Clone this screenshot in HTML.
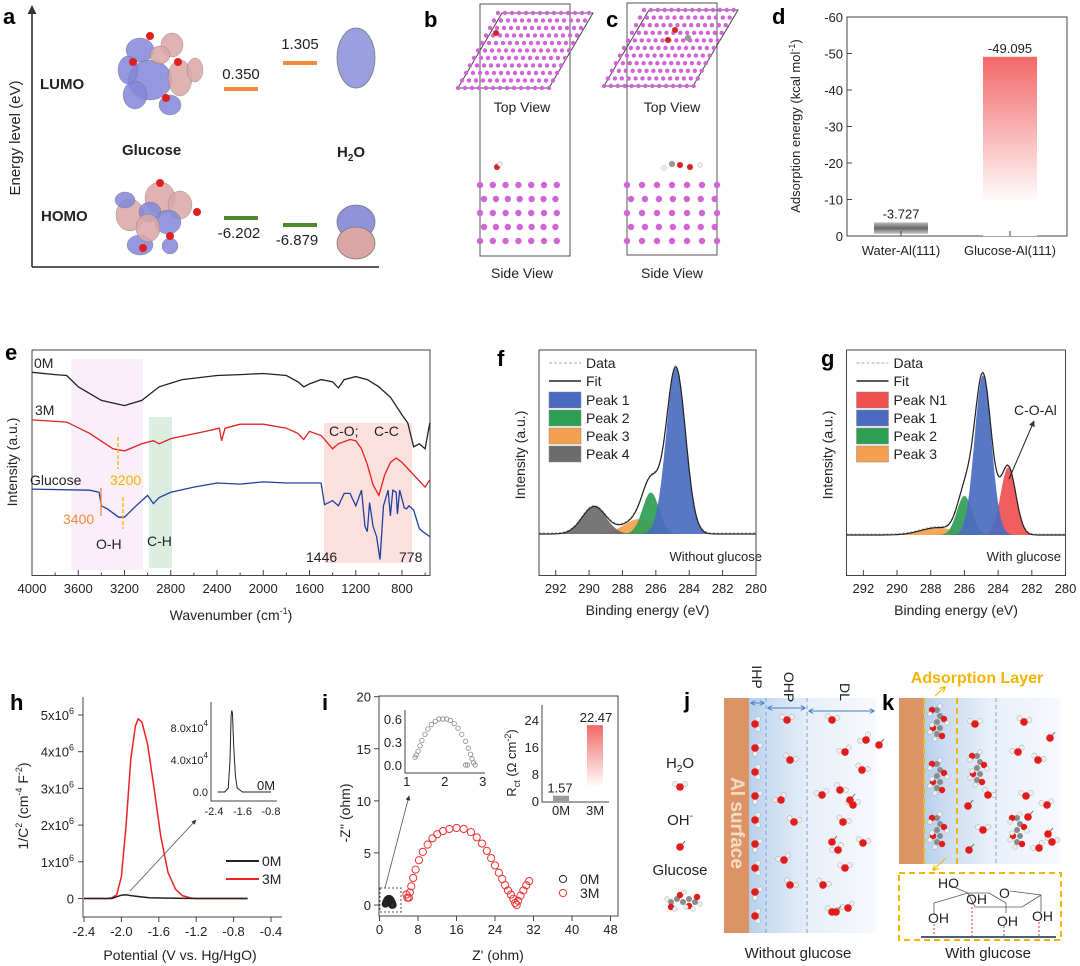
<!DOCTYPE html>
<html><head><meta charset="utf-8"><title>Glucose adsorption figure</title>
<style>
html,body{margin:0;padding:0;background:#fff;}
svg{display:block;font-family:"Liberation Sans",Arial,sans-serif;}
text{fill:#222;}
.t13{font-size:13px}.t14{font-size:14px}.t15{font-size:15px}
.lbl{font-size:22px;font-weight:bold;fill:#000}
</style></head>
<body>
<svg id="fig" width="1080" height="966" viewBox="0 0 1080 966" xmlns="http://www.w3.org/2000/svg">
<defs>
<linearGradient id="gRed" x1="0" y1="0" x2="0" y2="1"><stop offset="0" stop-color="#f26868"/><stop offset="0.82" stop-color="#fff" stop-opacity="1"/><stop offset="1" stop-color="#fff"/></linearGradient>
<linearGradient id="gGray" x1="0" y1="0" x2="0" y2="1"><stop offset="0" stop-color="#bbb"/><stop offset="0.5" stop-color="#666"/><stop offset="1" stop-color="#ccc"/></linearGradient>
<linearGradient id="gBlueJ" x1="0" y1="0" x2="1" y2="0"><stop offset="0" stop-color="#b5cfec"/><stop offset="0.15" stop-color="#cadcf1"/><stop offset="0.5" stop-color="#e9f0f9"/><stop offset="1" stop-color="#f7f9fd"/></linearGradient>
<marker id="arr" viewBox="0 0 10 10" refX="9" refY="5" markerWidth="6" markerHeight="6" orient="auto-start-reverse"><path d="M0,0 L10,5 L0,10 z" fill="#333"/></marker>
<marker id="arrB" viewBox="0 0 10 10" refX="9" refY="5" markerWidth="5" markerHeight="5" orient="auto-start-reverse"><path d="M0,0 L10,5 L0,10" fill="none" stroke="#4a7cc8" stroke-width="2"/></marker>
<marker id="arrY" viewBox="0 0 10 10" refX="9" refY="5" markerWidth="6" markerHeight="6" orient="auto"><path d="M0,0 L10,5 L0,10" fill="none" stroke="#f5b400" stroke-width="2"/></marker>
</defs>

<!-- Panel a -->
<g>
<text class="lbl" x="3" y="24">a</text>
<line x1="32" y1="267" x2="32" y2="6" stroke="#222" stroke-width="1.5" marker-end="url(#arr)"/>
<line x1="32" y1="267" x2="379" y2="267" stroke="#222" stroke-width="1.5"/>
<text class="t15" transform="translate(20,138) rotate(-90)" text-anchor="middle">Energy level (eV)</text>
<text x="40" y="89" style="font-size:15px;font-weight:bold">LUMO</text>
<text x="41" y="221" style="font-size:15px;font-weight:bold">HOMO</text>
<text x="122" y="155" style="font-size:15px;font-weight:bold">Glucose</text>
<text x="337" y="157" style="font-size:15px;font-weight:bold">H<tspan dy="4" style="font-size:10px">2</tspan><tspan dy="-4">O</tspan></text>
<g id="orbitals"></g>
<line x1="224" y1="89" x2="258" y2="89" stroke="#f08a3c" stroke-width="4"/>
<line x1="283" y1="63" x2="317" y2="63" stroke="#f08a3c" stroke-width="4"/>
<line x1="224" y1="218" x2="258" y2="218" stroke="#4f8a2e" stroke-width="4"/>
<line x1="283" y1="225" x2="317" y2="225" stroke="#4f8a2e" stroke-width="4"/>
<text class="t15" x="241" y="79" text-anchor="middle">0.350</text>
<text class="t15" x="300" y="49" text-anchor="middle">1.305</text>
<text class="t15" x="239" y="238" text-anchor="middle">-6.202</text>
<text class="t15" x="297" y="245" text-anchor="middle">-6.879</text>
</g>

<!-- Panels b, c -->
<g>
<text class="lbl" x="424" y="27">b</text>
<rect x="480" y="4" width="90" height="252" fill="none" stroke="#555" stroke-width="1"/>
<polygon points="502,13 593,13 549,88 458,88" fill="none" stroke="#444"/>
<g id="bAtoms"></g>
<text class="t14" x="522" y="112" text-anchor="middle">Top View</text>
<text class="t14" x="522" y="278" text-anchor="middle">Side View</text>
</g>
<g>
<text class="lbl" x="606" y="27">c</text>
<rect x="627" y="3" width="90" height="252" fill="none" stroke="#555" stroke-width="1"/>
<polygon points="649,10 738,10 693,86 604,86" fill="none" stroke="#444"/>
<g id="cAtoms"></g>
<text class="t14" x="672" y="112" text-anchor="middle">Top View</text>
<text class="t14" x="672" y="278" text-anchor="middle">Side View</text>
</g>

<!-- Panel d -->
<g id="pd">
<text class="lbl" x="772" y="24">d</text>
<rect x="847" y="17" width="220" height="219" fill="none" stroke="#444"/>
<text class="t13" transform="translate(800,126) rotate(-90)" text-anchor="middle">Adsorption energy (kcal mol<tspan dy="-5" style="font-size:9px">-1</tspan><tspan dy="5">)</tspan></text>
</g>

<!-- Panel e -->
<g id="pe">
<text class="lbl" x="5" y="360">e</text>
</g>
<!-- Panel f / g -->
<g id="pf">
<text class="lbl" x="497" y="366">f</text>
</g>
<g id="pg">
<text class="lbl" x="821" y="366">g</text>
</g>
<!-- Panel h / i -->
<g id="ph">
<text class="lbl" x="10" y="710">h</text>
</g>
<g id="pi">
<text class="lbl" x="322" y="710">i</text>
</g>

<!-- Panel j -->
<g id="pj">
<text class="lbl" x="684" y="708">j</text>
<rect x="749" y="698" width="127" height="235" fill="url(#gBlueJ)"/>
<rect x="724" y="698" width="25" height="235" fill="#dc9466"/>
<text transform="translate(731,823) rotate(90)" text-anchor="middle" style="font-size:19px;font-weight:bold;fill:#f6dcc6">Al surface</text>
<line x1="766" y1="698" x2="766" y2="933" stroke="#7fa3d8" stroke-dasharray="4,3"/>
<line x1="807" y1="698" x2="807" y2="933" stroke="#7fa3d8" stroke-dasharray="4,3"/>
<line x1="751" y1="703" x2="764" y2="703" stroke="#4a7cc8" marker-start="url(#arrB)" marker-end="url(#arrB)"/>
<line x1="768" y1="708" x2="805" y2="708" stroke="#4a7cc8" marker-start="url(#arrB)" marker-end="url(#arrB)"/>
<line x1="809" y1="711" x2="874" y2="711" stroke="#4a7cc8" marker-start="url(#arrB)" marker-end="url(#arrB)"/>
<text class="t14" transform="translate(752,677) rotate(90)" text-anchor="middle">IHP</text>
<text class="t14" transform="translate(784,687) rotate(90)" text-anchor="middle">OHP</text>
<text class="t14" transform="translate(840,692) rotate(90)" text-anchor="middle">DL</text>
<text class="t15" x="798" y="958" text-anchor="middle">Without glucose</text>
<text class="t15" x="680" y="768" text-anchor="middle">H<tspan dy="4" style="font-size:10px">2</tspan><tspan dy="-4">O</tspan></text>
<text class="t15" x="680" y="825" text-anchor="middle">OH<tspan dy="-6" style="font-size:10px">-</tspan></text>
<text class="t15" x="680" y="875" text-anchor="middle">Glucose</text>
<g id="jMol"></g>
</g>

<!-- Panel k -->
<g id="pk">
<text class="lbl" x="882" y="710">k</text>
<rect x="924" y="698" width="136" height="166" fill="url(#gBlueJ)"/>
<rect x="899" y="698" width="25" height="166" fill="#dc9466"/>
<line x1="924" y1="698" x2="924" y2="864" stroke="#f5b400" stroke-width="2" stroke-dasharray="6,4"/>
<line x1="957" y1="698" x2="957" y2="864" stroke="#f5b400" stroke-width="2" stroke-dasharray="6,4"/>
<line x1="996" y1="698" x2="996" y2="864" stroke="#7fa3d8" stroke-dasharray="4,3"/>
<text x="977" y="683" text-anchor="middle" style="font-size:16px;font-weight:bold;fill:#f5b400">Adsorption Layer</text>
<line x1="935" y1="696" x2="945" y2="687" stroke="#f5b400" marker-end="url(#arrY)"/>
<line x1="946" y1="858" x2="933" y2="870" stroke="#f5b400" marker-end="url(#arrY)"/>
<rect x="899" y="873" width="162" height="67" fill="none" stroke="#f5b400" stroke-width="2" stroke-dasharray="6,4"/>
<g stroke="#555" fill="none" stroke-width="0.8">
<polyline points="934,914 934,903 968,893 989,893 1006,903 1006,913"/>
<polyline points="968,893 975,907 1022,907 1041,895 1041,912"/>
<line x1="1010" y1="891" x2="1041" y2="895"/>
<line x1="949" y1="885" x2="968" y2="893"/>
</g>
<g stroke="#e53935" stroke-dasharray="2,2" stroke-width="1">
<line x1="934" y1="924" x2="934" y2="937"/><line x1="972" y1="903" x2="972" y2="937"/><line x1="1004" y1="926" x2="1004" y2="937"/><line x1="1039" y1="922" x2="1039" y2="937"/>
</g>
<line x1="921" y1="937" x2="1056" y2="937" stroke="#4a6080" stroke-width="2"/>
<g class="t14">
<text x="938" y="888" style="font-size:14px">HO</text>
<text x="966" y="904" style="font-size:14px">OH</text>
<text x="999" y="898" style="font-size:14px">O</text>
<text x="928" y="923" style="font-size:14px">OH</text>
<text x="997" y="926" style="font-size:14px">OH</text>
<text x="1032" y="921" style="font-size:14px">OH</text>
</g>
<text class="t15" x="988" y="958" text-anchor="middle">With glucose</text>
<g id="kMol"></g>
</g>
</svg>

<script>
// ---------- DATA ----------
// Panel d: adsorption energies (kcal/mol)
const adsCategories = ['Water-Al(111)', 'Glucose-Al(111)'];
const adsValues = [-3.727, -49.095];
const adsTicks = [0, -10, -20, -30, -40, -50, -60];

// Panel e: FTIR (wavenumber, arbitrary intensity)
const ftirWn0M = [4000,3800,3700,3600,3400,3200,3050,2900,2700,2400,2200,2000,1800,1700,1650,1600,1500,1400,1350,1300,1200,1100,1000,900,800,750,700,650,600,560];
const ftir0M = [90,89,88.6,83.6,77.6,75.3,77.6,83.6,86.8,88.6,89,89.5,88.6,85.8,83.6,84.9,86.8,85.8,83.1,86.8,88.1,86.8,83.6,79,71.2,67.6,57.1,58.4,56.2,67.6];
const ftirWn3M = [4000,3700,3500,3300,3200,3050,2950,2900,2800,2500,2380,2360,2330,2200,2000,1800,1700,1650,1600,1500,1400,1350,1250,1200,1150,1100,1050,1000,950,900,850,800,700,600,560];
const ftir3M = [69,68,63,56.2,55.3,58.4,59.8,58.4,60.7,63.9,65.3,59.8,65.3,67.1,67.1,65.3,63,60.3,63.9,62.1,56.2,58.4,60.3,59.8,56.2,49.3,40.2,35.6,44.7,50.2,52.1,50.2,44.7,39.3,42.5];
const ftirWnGlu = [4000,3500,3420,3400,3350,3250,3200,3100,3000,2950,2900,2800,2600,2400,2200,2000,1800,1500,1470,1400,1350,1300,1250,1200,1150,1120,1100,1080,1050,1020,1000,990,960,920,900,880,850,840,820,780,760,740,700,650,620,560];
const ftirGlu = [38.4,37.9,37,31,29.7,26,26,31,35.6,32,34.7,37,39.3,41.1,40.6,41.6,41.1,41.1,31.5,33.3,31,36.5,36.5,31,37.9,21.9,19.6,32.4,21.9,17.4,10.5,7.3,31,37.9,26.5,37.9,37,27.4,37.9,30.1,29.7,31,29.2,21,19.6,17.4];
const ftirTicks = [4000,3600,3200,2800,2400,2000,1600,1200,800];

// Panel f: XPS C1s without glucose (center eV, height, sigma)
const fNames = ['Peak 1','Peak 2','Peak 3','Peak 4'];
const fCenters = [284.8, 286.3, 287.0, 289.7];
const fHeights = [100, 25, 9, 16.5];
const fSigmas = [0.58, 0.5, 0.9, 0.72];
const fColors = ['#4a6bbf','#2e9e55','#f4a050','#6b6b6b'];
// Panel g: with glucose
const gNames = ['Peak N1','Peak 1','Peak 2','Peak 3'];
const gCenters = [283.4, 284.9, 286.0, 287.6];
const gHeights = [41.5, 98, 24, 4.5];
const gSigmas = [0.45, 0.5, 0.45, 1.0];
const gColors = ['#f05050','#4a6bbf','#2e9e55','#f4a050'];
const xpsTicks = [292,290,288,286,284,282,280];

// Panel h: Mott-Schottky (V, 1e6 cm^4 F^-2)
const msPot3M = [-2.4,-2.15,-2.1,-2.05,-2.0,-1.95,-1.9,-1.85,-1.82,-1.78,-1.72,-1.65,-1.58,-1.5,-1.42,-1.35,-1.25,-1.2,-0.65];
const ms3M = [0,0,0.02,0.1,0.6,2.0,3.8,4.7,4.9,4.8,4.2,3.0,1.7,0.7,0.25,0.08,0.01,0,0];
const msPot0M = [-2.4,-2.1,-2.05,-2.0,-1.95,-1.9,-1.8,-1.7,-1.5,-1.2,-0.65];
const ms0M = [0,0,0.05,0.09,0.1,0.08,0.05,0.02,0.01,0,0];
// inset (1e4 units)
const msInsetPot = [-2.3,-2.1,-2.0,-1.95,-1.92,-1.9,-1.88,-1.85,-1.8,-1.75,-1.6,-0.8];
const msInset0M = [0,0,0.5,4,9.5,10.2,9.8,6,2,0.5,0,0];
const msXTicks = [-2.4,-2.0,-1.6,-1.2,-0.8,-0.4];
const msYTicks = [0,1,2,3,4,5];

// Panel i: Nyquist
const nyZr3M = [5.6,5.8,6.1,6.3,6.6,7,7.5,8.2,9,10,11,12,13.2,14.5,16,17.5,19,20.2,21.3,22.3,23.2,24,24.8,25.5,26.1,26.7,27.3,27.8,28.2,28.5,28.8,29.3,29.9,30.5,31.1];
const nyZi3M = [1.0,0.7,0.7,1.2,1.8,2.6,3.4,4.3,5.1,5.8,6.4,6.8,7.1,7.3,7.4,7.3,7.0,6.5,5.9,5.2,4.5,3.8,3.1,2.5,1.9,1.4,1.0,0.6,0.2,0,0.4,0.9,1.4,1.9,2.3];
const nyZr0M = [1.22,1.25,1.3,1.35,1.4,1.48,1.56,1.65,1.75,1.85,1.95,2.05,2.15,2.25,2.35,2.45,2.55,2.62,2.68,2.72,2.76,2.8,2.6,2.55];
const nyZi0M = [0.1,0.13,0.18,0.25,0.32,0.4,0.47,0.53,0.57,0.6,0.6,0.6,0.58,0.54,0.48,0.4,0.31,0.22,0.14,0.08,0.03,0,0,0];
const nyXTicks = [0,8,16,24,32,40,48];
const nyYTicks = [0,5,10,15,20];
const rctCategories = ['0M','3M'];
const rctValues = [1.57, 22.47];

// ---------- HELPERS ----------
const NS = 'http://www.w3.org/2000/svg';
const svg = document.getElementById('fig');
function mk(tag, attrs, parent, txt) {
  const e = document.createElementNS(NS, tag);
  for (const k in attrs) e.setAttribute(k, attrs[k]);
  if (txt !== undefined) e.textContent = txt;
  (parent || svg).appendChild(e);
  return e;
}
function lin(d0, d1, r0, r1) { return v => r0 + (v - d0) * (r1 - r0) / (d1 - d0); }
function pathOf(xs, ys, fx, fy) { return xs.map((x, i) => (i ? 'L' : 'M') + fx(x).toFixed(1) + ',' + fy(ys[i]).toFixed(1)).join(''); }
function frame(g, x, y, w, h, name) {
  const r = mk('rect', {x: x, y: y, width: w, height: h, fill: 'none', stroke: '#444', 'stroke-width': 1}, g);
  
  
  return r;
}
function supLabel(g, x, y, base, exp, anchor, size) {
  const t = mk('text', {x: x, y: y, 'text-anchor': anchor || 'end', style: 'font-size:' + (size || 13) + 'px'}, g);
  t.appendChild(document.createTextNode(base));
  if (exp) { const s = mk('tspan', {dy: -6, style: 'font-size:' + Math.round((size || 13) * 0.7) + 'px'}, t, exp); }
  return t;
}

// ---------- Panel a orbitals ----------
(function () {
  const g = document.getElementById('orbitals');
  const P = '#8286d8', K = '#dba6a6';
  const blobsL = [[140,50,14,12,P],[172,45,11,12,K],[150,80,22,20,P],[180,78,12,18,K],[160,55,10,9,K],[135,95,12,14,P],[170,105,11,10,P],[195,70,8,12,K],[128,70,10,14,P]];
  const blobsH = [[130,215,14,16,K],[160,198,15,16,K],[150,212,11,10,P],[180,205,12,14,K],[168,222,13,12,P],[140,245,13,10,P],[170,246,8,8,P],[148,228,12,14,K],[125,200,10,8,P]];
  blobsL.concat(blobsH).forEach(b => {
    const e = mk('ellipse', {cx: b[0], cy: b[1], rx: b[2], ry: b[3], fill: b[4], 'fill-opacity': 0.85, stroke: '#666', 'stroke-width': 0.3}, g);
    
    
  });
  [[150,36],[178,62],[133,62],[166,98],[160,183],[197,212],[143,248],[170,236]].forEach(p => {
    const e = mk('circle', {cx: p[0], cy: p[1], r: 4, fill: '#e02020'}, g);
    
    
  });
  const w1 = mk('ellipse', {cx: 356, cy: 58, rx: 19, ry: 30, fill: '#9a9fe0', stroke: '#777', 'stroke-width': 0.8}, g);
  
  
  const w2 = mk('ellipse', {cx: 356, cy: 222, rx: 19, ry: 17, fill: '#8f93d8', stroke: '#777', 'stroke-width': 0.8}, g);
  
  
  const w3 = mk('ellipse', {cx: 356, cy: 243, rx: 19, ry: 16, fill: '#dba6a6', stroke: '#777', 'stroke-width': 0.8}, g);
  
  
})();

// ---------- Panels b, c atoms ----------
(function () {
  function slab(g, x0, y0, dx, rows, cols, skew, dy, r) {
    for (let i = 0; i < rows; i++) for (let j = 0; j < cols; j++) {
      const c = mk('circle', {cx: x0 + j * dx + (rows - 1 - i) * skew, cy: y0 + i * dy, r: r, fill: '#d066d6'}, g);
      
      
    }
  }
  const gb = document.getElementById('bAtoms'), gc = document.getElementById('cAtoms');
  slab(gb, 458, 13, 7.0, 11, 14, 4.0, 7.5, 2.2);
  slab(gc, 604, 10, 6.9, 11, 14, 4.0, 7.6, 2.2);
  [[gb,480,12.8],[gc,627,15]].forEach(s => {
    for (let i = 0; i < 5; i++) for (let j = 0; j < 7; j++) {
      const c = mk('circle', {cx: s[1] + (i % 2 ? 4 : 0) + j * s[2] * (i % 2 ? 0.93 : 1), cy: 185 + i * 14, r: 3.2, fill: '#d066d6'}, s[0]);
      
      
    }
  });
  [[gb,497,167,'#e02020',3],[gb,500,164,'#eee',2.5],[gb,496,33,'#e02020',3],[gc,680,165,'#e02020',3],[gc,672,164,'#999',3],[gc,690,167,'#e02020',3],[gc,664,168,'#eee',2.5],[gc,700,165,'#eee',2.5],[gc,675,30,'#e02020',3],[gc,688,38,'#999',3],[gc,668,40,'#e02020',3]].forEach(a => {
    const c = mk('circle', {cx: a[1], cy: a[2], r: a[4], fill: a[3], stroke: '#888', 'stroke-width': 0.3}, a[0]);
    
    
  });
})();

// ---------- Panel d ----------
(function () {
  const g = document.getElementById('pd');
  const yD = lin(0, -60, 236, 17);
  const xC = [901, 1010];
  adsTicks.forEach(t => {
    const l = mk('line', {x1: 847, x2: 852, y1: yD(t), y2: yD(t), stroke: '#444'}, g);
    
    
    const tx = mk('text', {x: 843, y: yD(t) + 5, 'text-anchor': 'end', class: 't13'}, g, String(t));
    
    
  });
  adsValues.forEach((v, i) => {
    const top = yD(v), h = yD(0) - top;
    const b = mk('rect', {x: xC[i] - 27, y: top, width: 54, height: i === 0 ? h * 0.85 : h, fill: i === 0 ? 'url(#gGray)' : 'url(#gRed)'}, g);
    
    
    const vl = mk('text', {x: xC[i], y: top - 4, 'text-anchor': 'middle', class: 't13'}, g, v.toFixed(3));
    
    
    const cl = mk('text', {x: xC[i], y: 255, 'text-anchor': 'middle', class: 't13'}, g, adsCategories[i]);
    
    
    const tk = mk('line', {x1: xC[i], x2: xC[i], y1: 236, y2: 231, stroke: '#444'}, g);
    
    
  });
})();

// ---------- Panel e ----------
(function () {
  const g = document.getElementById('pe');
  const xE = lin(4000, 800, 32, 402), yE = lin(0, 100, 576, 349.7);
  const regions = [[3660,3040,359,570,'#fbeefb','oh-region'],[2988,2789,417,568,'#dceee2','ch-region'],[1474,713,423,563,'#fbe0de','co-cc-region']];
  regions.forEach(r => {
    const e = mk('rect', {x: xE(r[0]), y: r[2], width: xE(r[1]) - xE(r[0]), height: r[3] - r[2], fill: r[4]}, g);
    
    
  });
  frame(g, 32, 350, 398, 225.5, 'e-plot-frame');
  const series = [[ftirWn0M, ftir0M, '#222', 'ftir-0m-line'], [ftirWn3M, ftir3M, '#e02020', 'ftir-3m-line'], [ftirWnGlu, ftirGlu, '#2040a0', 'ftir-glucose-line']];
  series.forEach(s => {
    const p = mk('path', {d: pathOf(s[0], s[1], xE, yE), fill: 'none', stroke: s[2], 'stroke-width': 1.3}, g);
    
    
  });
  ftirTicks.forEach(t => {
    const l = mk('line', {x1: xE(t), x2: xE(t), y1: 575.5, y2: 570, stroke: '#444'}, g);
    
    
    const m = mk('line', {x1: xE(t - 200), x2: xE(t - 200), y1: 575.5, y2: 572.5, stroke: '#444'}, g);
    
    
    const tx = mk('text', {x: xE(t), y: 593, 'text-anchor': 'middle', class: 't13'}, g, String(t));
    
    
  });
  const xt = mk('text', {x: 231, y: 620, 'text-anchor': 'middle', class: 't14'}, g, 'Wavenumber (cm');
  
  
  mk('tspan', {dy: -6, style: 'font-size:9px'}, xt, '-1');
  mk('tspan', {dy: 6}, xt, ')');
  const yt = mk('text', {transform: 'translate(17,462) rotate(-90)', 'text-anchor': 'middle', class: 't14'}, g, 'Intensity (a.u.)');
  
  
  const labels = [[34,368,'0M','#222','series-label-0m'],[35,415,'3M','#222','series-label-3m'],[30,485,'Glucose','#222','series-label-glucose'],[110,485,'3200','#f5b400','peak-3200-label'],[63,524,'3400','#f08a3c','peak-3400-label'],[96,549,'O-H','#222','oh-label'],[147,546,'C-H','#222','ch-label'],[329,436,'C-O;','#222','co-label'],[374,436,'C-C','#222','cc-label'],[306,562,'1446','#222','wn-1446-label'],[399,562,'778','#222','wn-778-label']];
  labels.forEach(l => {
    const t = mk('text', {x: l[0], y: l[1], class: 't14', style: 'fill:' + l[3]}, g, l[2]);
    
    
  });
  [[118,437,469,'#f5b400',1],[123,497,529,'#f5b400',1],[101,488,516,'#f08a3c',0]].forEach(d => {
    const l = mk('line', {x1: d[0], x2: d[0], y1: d[1], y2: d[2], stroke: d[3], 'stroke-width': 1.3, 'stroke-dasharray': d[4] ? '4,2' : 'none'}, g);
    
    
  });
})();

// ---------- Panels f, g ----------
function xpsPanel(gid, x0, x1, base, top, names, centers, heights, sigmas, colors, caption, capX) {
  const g = document.getElementById(gid);
  const xS = lin(293, 280, x0, x1), yS = lin(0, 100, base, top);
  const es = [];
  for (let e = 293; e >= 280 - 1e-9; e -= 0.05) es.push(+e.toFixed(2));
  const gauss = (i, e) => heights[i] * Math.exp(-Math.pow(e - centers[i], 2) / (2 * sigmas[i] * sigmas[i]));
  const order = centers.map((c, i) => i).sort((a, b) => heights[a] - heights[b]);
  order.forEach(i => {
    const xs = es.filter(e => Math.abs(e - centers[i]) < 4 * sigmas[i]);
    const d = 'M' + xS(xs[0]) + ',' + yS(0) + xs.map(e => 'L' + xS(e).toFixed(1) + ',' + yS(gauss(i, e)).toFixed(1)).join('') + 'L' + xS(xs[xs.length - 1]) + ',' + yS(0) + 'Z';
    const p = mk('path', {d: d, fill: colors[i], 'fill-opacity': 0.92}, g);
    
    
  });
  const fit = es.map(e => centers.reduce((s, c, i) => s + gauss(i, e), 0));
  const dl = mk('path', {d: pathOf(es, fit.map(v => v + 0.6), xS, yS), fill: 'none', stroke: '#aaa', 'stroke-width': 1, 'stroke-dasharray': '2,2'}, g);
  
  
  const fl = mk('path', {d: pathOf(es, fit, xS, yS), fill: 'none', stroke: '#222', 'stroke-width': 1.2}, g);
  
  
  frame(g, x0, 350, x1 - x0, 225.5, gid + '-plot-frame');
  xpsTicks.forEach(t => {
    const l = mk('line', {x1: xS(t), x2: xS(t), y1: 575.5, y2: 570, stroke: '#444'}, g);
    
    
    const tx = mk('text', {x: xS(t), y: 593, 'text-anchor': 'middle', class: 't13'}, g, String(t));
    
    
  });
  const xt = mk('text', {x: (x0 + x1) / 2, y: 615, 'text-anchor': 'middle', class: 't14'}, g, 'Binding energy (eV)');
  
  
  const yt = mk('text', {transform: 'translate(' + (x0 - 14) + ',455) rotate(-90)', 'text-anchor': 'middle', class: 't14'}, g, 'Intensity (a.u.)');
  
  
  const lx = x0 + 10;
  const ld = mk('line', {x1: lx, x2: lx + 32, y1: 363, y2: 363, stroke: '#aaa', 'stroke-dasharray': '3,2'}, g);
  
  
  const ltd = mk('text', {x: lx + 37, y: 368, class: 't14'}, g, 'Data');
  
  
  const lf = mk('line', {x1: lx, x2: lx + 32, y1: 381, y2: 381, stroke: '#222', 'stroke-width': 1.5}, g);
  
  
  const ltf = mk('text', {x: lx + 37, y: 386, class: 't14'}, g, 'Fit');
  
  
  names.forEach((n, i) => {
    const r = mk('rect', {x: lx, y: 392 + i * 18, width: 32, height: 16, fill: colors[i], stroke: '#888', 'stroke-width': 0.5}, g);
    
    
    const t = mk('text', {x: lx + 37, y: 405 + i * 18, class: 't14'}, g, n);
    
    
  });
  const c = mk('text', {x: capX, y: 561, 'text-anchor': 'end', class: 't13'}, g, caption);
  
  
}
xpsPanel('pf', 539, 756, 534, 368, fNames, fCenters, fHeights, fSigmas, fColors, 'Without glucose', 762);
xpsPanel('pg', 846.5, 1065.5, 535, 372, gNames, gCenters, gHeights, gSigmas, gColors, 'With glucose', 1061);
(function () {
  const g = document.getElementById('pg');
  const t = mk('text', {x: 1014, y: 415, class: 't14'}, g, 'C-O-Al');
  
  
  const a = mk('line', {x1: 1009, y1: 479, x2: 1034, y2: 421, stroke: '#222', 'marker-end': 'url(#arr)'}, g);
  
  
})();

// ---------- Panel h ----------
(function () {
  const g = document.getElementById('ph');
  const xH = lin(-2.4, -0.4, 84, 271), yH = lin(0, 5, 898.5, 715);
  const ax = mk('path', {d: 'M83,697 V917 H282', fill: 'none', stroke: '#444'}, g);
  
  
  msXTicks.forEach(t => {
    const l = mk('line', {x1: xH(t), x2: xH(t), y1: 917, y2: 922, stroke: '#444'}, g);
    
    
    const tx = mk('text', {x: xH(t), y: 936, 'text-anchor': 'middle', class: 't13'}, g, t.toFixed(1));
    
    
  });
  msYTicks.forEach(t => {
    const l = mk('line', {x1: 83, x2: 78, y1: yH(t), y2: yH(t), stroke: '#444'}, g);
    
    
    const tx = supLabel(g, 74, yH(t) + 5, t === 0 ? '0' : t + 'x10', t === 0 ? '' : '6', 'end', 13);
    
    
  });
  const p3 = mk('path', {d: pathOf(msPot3M, ms3M, xH, yH), fill: 'none', stroke: '#ee2222', 'stroke-width': 1.5, 'stroke-linejoin': 'round'}, g);
  
  
  const p0 = mk('path', {d: pathOf(msPot0M, ms0M, xH, yH), fill: 'none', stroke: '#222', 'stroke-width': 1.5}, g);
  
  
  const xt = mk('text', {x: 180, y: 960, 'text-anchor': 'middle', class: 't14'}, g, 'Potential (V vs. Hg/HgO)');
  
  
  const yt = mk('text', {transform: 'translate(28,806) rotate(-90)', 'text-anchor': 'middle', class: 't14'}, g, '1/C');
  
  
  mk('tspan', {dy: -6, style: 'font-size:9px'}, yt, '2');
  mk('tspan', {dy: 6}, yt, ' (cm');
  mk('tspan', {dy: -6, style: 'font-size:9px'}, yt, '-4');
  mk('tspan', {dy: 6}, yt, ' F');
  mk('tspan', {dy: -6, style: 'font-size:9px'}, yt, '-2');
  mk('tspan', {dy: 6}, yt, ')');
  [['#222', 861, '0M'], ['#ee2222', 879, '3M']].forEach(l => {
    const ln = mk('line', {x1: 226, x2: 259, y1: l[1], y2: l[1], stroke: l[0], 'stroke-width': 2}, g);
    
    
    const tx = mk('text', {x: 262, y: l[1] + 5, class: 't14'}, g, l[2]);
    
    
  });
  const ar = mk('line', {x1: 130, y1: 891, x2: 196, y2: 820, stroke: '#555', 'stroke-width': 0.8, 'marker-end': 'url(#arr)'}, g);
  
  
  // inset
  const xI = lin(-2.4, -0.8, 214, 271), yI = lin(0, 8, 792, 728);
  const iax = mk('path', {d: 'M211,702 V801 H277', fill: 'none', stroke: '#444'}, g);
  
  
  [-2.4, -1.6, -0.8].forEach(t => {
    const tx = mk('text', {x: xI(t), y: 815, 'text-anchor': 'middle', style: 'font-size:11px'}, g, t.toFixed(1));
    
    
  });
  [0, 4, 8].forEach(t => {
    const tx = t === 0 ? mk('text', {x: 208, y: yI(t) + 4, 'text-anchor': 'end', style: 'font-size:11px'}, g, '0.0') : supLabel(g, 208, yI(t) + 4, t.toFixed(1) + 'x10', '4', 'end', 11);
    
    
  });
  const ip = mk('path', {d: pathOf(msInsetPot, msInset0M, xI, yI), fill: 'none', stroke: '#222', 'stroke-width': 1}, g);
  
  
  const il = mk('text', {x: 257, y: 790, class: 't13'}, g, '0M');
  
  
})();

// ---------- Panel i ----------
(function () {
  const g = document.getElementById('pi');
  const xN = lin(0, 48, 379.5, 610.5), yN = lin(0, 20, 905, 696.7);
  frame(g, 379, 696, 239, 220, 'i-plot-frame');
  nyXTicks.forEach(t => {
    const l = mk('line', {x1: xN(t), x2: xN(t), y1: 916, y2: 921, stroke: '#444'}, g);
    
    
    const tx = mk('text', {x: xN(t), y: 934, 'text-anchor': 'middle', class: 't13'}, g, String(t));
    
    
  });
  nyYTicks.forEach(t => {
    const l = mk('line', {x1: 379, x2: 374, y1: yN(t), y2: yN(t), stroke: '#444'}, g);
    
    
    const tx = mk('text', {x: 371, y: yN(t) + 5, 'text-anchor': 'end', class: 't13'}, g, String(t));
    
    
  });
  const xt = mk('text', {x: 498, y: 960, 'text-anchor': 'middle', class: 't14'}, g, "Z' (ohm)");
  
  
  const yt = mk('text', {transform: 'translate(350,813) rotate(-90)', 'text-anchor': 'middle', class: 't14'}, g, "-Z'' (ohm)");
  
  
  nyZr3M.forEach((x, i) => {
    const c = mk('circle', {cx: xN(x), cy: yN(nyZi3M[i]), r: 3.6, fill: 'none', stroke: '#ee3333', 'stroke-width': 1}, g);
    
    
  });
  nyZr0M.forEach((x, i) => {
    const c = mk('circle', {cx: xN(x), cy: yN(nyZi0M[i]), r: 3.2, fill: 'none', stroke: '#222', 'stroke-width': 1}, g);
    
    
  });
  const db = mk('rect', {x: 380, y: 888, width: 21, height: 24, fill: 'none', stroke: '#555', 'stroke-dasharray': '2,2'}, g);
  
  
  const ar = mk('line', {x1: 385, y1: 888, x2: 409, y2: 796, stroke: '#555', 'stroke-width': 0.8, 'marker-end': 'url(#arr)'}, g);
  
  
  [['#222', 879, '0M'], ['#ee3333', 893, '3M']].forEach(l => {
    const c = mk('circle', {cx: 563, cy: l[1], r: 3.6, fill: 'none', stroke: l[0]}, g);
    
    
    const tx = mk('text', {x: 580, y: l[1] + 5, class: 't14'}, g, l[2]);
    
    
  });
  // inset nyquist
  const xa = lin(1, 3, 406.7, 482.7), ya = lin(0, 0.6, 765, 719);
  const iax = mk('path', {d: 'M405,710 V773 H485', fill: 'none', stroke: '#444'}, g);
  
  
  [1, 2, 3].forEach(t => {
    const tx = mk('text', {x: xa(t), y: 786, 'text-anchor': 'middle', class: 't13'}, g, String(t));
    
    
  });
  [0, 0.3, 0.6].forEach(t => {
    const tx = mk('text', {x: 402, y: ya(t) + 5, 'text-anchor': 'end', class: 't13'}, g, t.toFixed(1));
    
    
  });
  nyZr0M.forEach((x, i) => {
    const c = mk('circle', {cx: xa(x), cy: ya(nyZi0M[i]), r: 2.2, fill: 'none', stroke: '#888', 'stroke-width': 0.8}, g);
    
    
  });
  // Rct inset
  const yR = lin(0, 24, 801, 720), xR = [561, 595];
  const rax = mk('path', {d: 'M542,705 V802 H609', fill: 'none', stroke: '#444'}, g);
  
  
  [0, 8, 16, 24].forEach(t => {
    const tx = mk('text', {x: 539, y: yR(t) + 5, 'text-anchor': 'end', class: 't13'}, g, String(t));
    
    
  });
  rctValues.forEach((v, i) => {
    const b = mk('rect', {x: xR[i] - 8, y: yR(v), width: 16, height: yR(0) - yR(v), fill: i ? 'url(#gRed)' : '#999'}, g);
    
    
    const vl = mk('text', {x: i ? xR[i] + 1 : xR[i] - 1, y: yR(v) - 3, 'text-anchor': 'middle', class: 't13'}, g, v.toFixed(2));
    
    
    const cl = mk('text', {x: xR[i], y: 815, 'text-anchor': 'middle', class: 't13'}, g, rctCategories[i]);
    
    
  });
  const rt = mk('text', {transform: 'translate(516,763) rotate(-90)', 'text-anchor': 'middle', class: 't13'}, g, 'R');
  
  
  mk('tspan', {dy: 4, style: 'font-size:9px'}, rt, 'ct');
  mk('tspan', {dy: -4}, rt, ' (Ω cm');
  mk('tspan', {dy: -5, style: 'font-size:9px'}, rt, '-2');
  mk('tspan', {dy: 5}, rt, ')');
})();

// ---------- Molecules for j, k ----------
function water(g, x, y, rot) {
  const grp = mk('g', {transform: 'translate(' + x + ',' + y + ') rotate(' + rot + ')'}, g);
  
  
  mk('circle', {cx: -5, cy: -3, r: 2.6, fill: '#eee', stroke: '#999', 'stroke-width': 0.4}, grp);
  mk('circle', {cx: 5, cy: -3, r: 2.6, fill: '#eee', stroke: '#999', 'stroke-width': 0.4}, grp);
  mk('circle', {cx: 0, cy: 0, r: 3.8, fill: '#e21b1b'}, grp);
}
function hydroxide(g, x, y) {
  const grp = mk('g', {}, g);
  
  
  mk('line', {x1: x, y1: y, x2: x + 5, y2: y - 6, stroke: '#777', 'stroke-width': 1}, grp);
  mk('circle', {cx: x, cy: y, r: 3.8, fill: '#e21b1b'}, grp);
}
function glucoseMol(g, x, y, vertical) {
  const grp = mk('g', {transform: 'translate(' + x + ',' + y + ')' + (vertical ? ' rotate(90)' : '')}, g);
  
  
  [[-12,0],[-6,-3],[0,0],[6,-3],[12,0]].forEach(p => mk('circle', {cx: p[0], cy: p[1], r: 3, fill: '#8a8a8a'}, grp));
  [[-12,5],[-3,-7],[6,4],[14,-5]].forEach(p => mk('circle', {cx: p[0], cy: p[1], r: 3.2, fill: '#e21b1b'}, grp));
  [[-16,-3],[-8,7],[1,-10],[10,7],[17,2],[3,5]].forEach(p => mk('circle', {cx: p[0], cy: p[1], r: 2.3, fill: '#eee', stroke: '#999', 'stroke-width': 0.4}, grp));
}
(function () {
  const gj = document.getElementById('jMol'), gk = document.getElementById('kMol');
  water(gj, 680, 787, 0); hydroxide(gj, 680, 847); glucoseMol(gj, 683, 902, false);
  for (let i = 0; i < 9; i++) water(gj, 755, 724 + i * 24, 90 + (i % 2) * 30);
  [[787,720,0],[790,760,20],[781,800,-30],[794,822,10],[784,860,-20],[790,885,30],[832,720,10],[845,752,-20],[840,790,30],[853,805,0],[822,795,-10],[843,822,20],[838,850,-30],[863,843,10],[845,868,0],[823,885,20],[848,908,-20],[832,912,10],[866,740,-40],[862,770,20]].forEach(w => water(gj, w[0], w[1], w[2]));
  [[879,745],[850,800],[832,842],[836,912]].forEach(h => hydroxide(gj, h[0], h[1]));
  for (let i = 0; i < 3; i++) glucoseMol(gk, 937, 722 + i * 54, true);
  glucoseMol(gk, 977, 768, true); glucoseMol(gk, 1017, 830, true);
  [[975,724,0],[1024,722,10],[1018,752,-20],[988,795,30],[983,830,0],[1038,760,20],[1047,805,-10],[1026,796,0],[1052,842,10],[1039,848,-30],[1042,888,0]].forEach(w => { if (w[1] < 862) water(gk, w[0], w[1], w[2]); });
  [[1050,738],[968,806],[969,850],[1028,817],[1048,834]].forEach(h => hydroxide(gk, h[0], h[1]));
})();
</script>
</body></html>
